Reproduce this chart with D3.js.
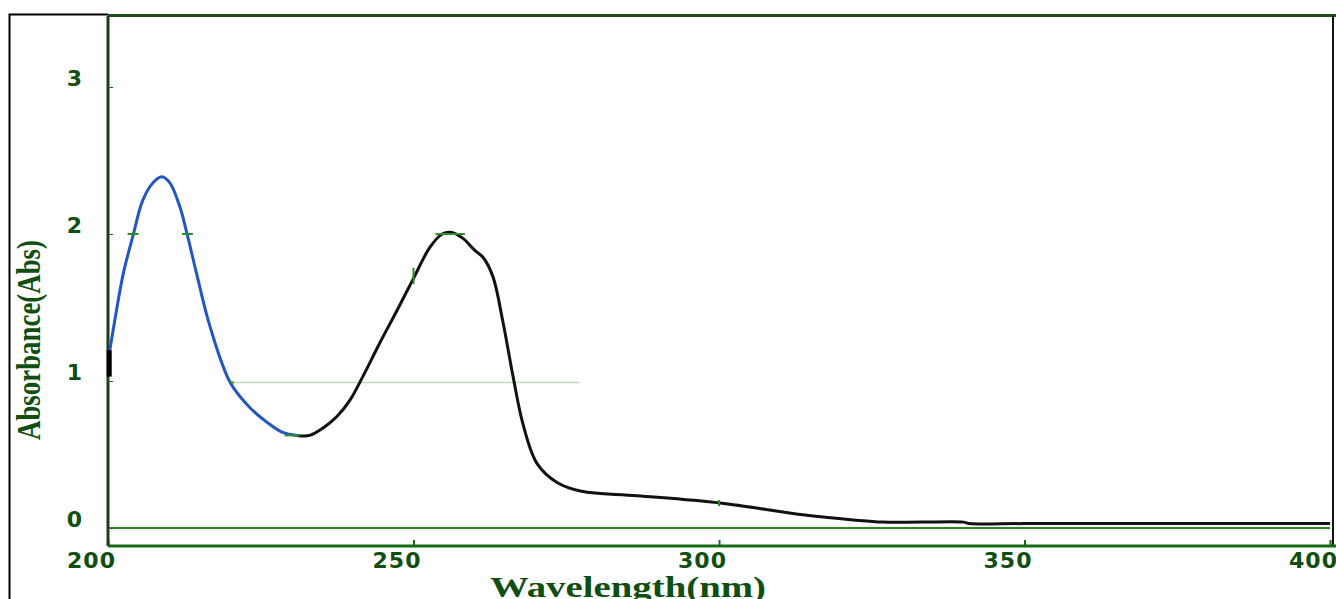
<!DOCTYPE html>
<html>
<head>
<meta charset="utf-8">
<script src="https://cdn.jsdelivr.net/npm/d3@7"></script>
<style>
  html, body { margin: 0; padding: 0; background: #fff; }
  svg { display: block; }
</style>
</head>
<body>
<div id="chart"></div>
<script>
// spectrum: [wavelength nm, absorbance]
var blueScan = [
  [200.3, 1.21], [201.1, 1.41], [202.5, 1.73], [204.1, 1.99], [205.7, 2.23],
  [207.4, 2.35], [208.8, 2.39], [210.1, 2.35], [211.8, 2.18], [213.0, 1.99],
  [214.5, 1.73], [216.7, 1.37], [220.0, 0.99], [223.2, 0.82], [226.0, 0.72],
  [228.6, 0.65], [230.9, 0.63]
];
var blackScan = [
  [230.9, 0.63], [233.0, 0.63], [235.2, 0.68], [237.5, 0.76], [239.6, 0.87],
  [241.7, 1.03], [244.5, 1.26], [247.3, 1.48], [249.9, 1.69], [252.7, 1.91],
  [254.7, 2.00], [256.3, 2.01], [258.1, 1.97], [260.0, 1.89], [261.4, 1.84],
  [263.0, 1.71], [264.6, 1.41], [266.3, 1.03], [267.9, 0.71], [270.2, 0.44],
  [273.5, 0.31], [277.5, 0.25], [286.6, 0.22], [300.2, 0.17], [313.7, 0.09],
  [322.0, 0.055], [326.8, 0.04], [333.0, 0.04], [340.0, 0.04], [341.0, 0.03],
  [350.0, 0.03], [370.0, 0.03], [390.0, 0.03], [400.0, 0.03]
];
var startStub = [[200.2, 1.03], [200.2, 1.21]];
var halfLine = [[220.0, 0.99], [277.2, 0.99]];
var hDashes = [[203.2, 205.0, 2.0], [212.1, 213.9, 2.0], [253.6, 258.4, 2.0], [228.9, 231.5, 0.63], [219.8, 220.6, 0.99]];
var vDashes = [[250.0, 1.66, 1.77], [300.0, 0.15, 0.19]];
var xTicks = [200, 250, 300, 350, 400];
var yTicks = [0, 1, 2, 3];

var W = 1336, H = 599;
var plotLeft = 108, plotRight = 1332, plotTop = 16, plotBottom = 546;
var green = "#176b17", labelGreen = "#0f4f0f";

var x = d3.scaleLinear().domain([200, 400]).range([plotLeft, 1330]);
var y = d3.scaleLinear().domain([0, 3]).range([528, 87]);

var svg = d3.select("#chart").append("svg").attr("width", W).attr("height", H);

// outer frame
svg.append("path").attr("d", "M9.5," + H + "V14.5H" + plotLeft)
  .attr("fill", "none").attr("stroke", "#000").attr("stroke-width", 2);

// plot frame
svg.append("line").attr("x1", plotLeft).attr("x2", W).attr("y1", plotTop - 0.5).attr("y2", plotTop - 0.5)
  .attr("stroke", "#1e4d1e").attr("stroke-width", 3);
svg.append("line").attr("x1", plotRight + 1).attr("x2", plotRight + 1).attr("y1", plotTop).attr("y2", plotBottom)
  .attr("stroke", "#111").attr("stroke-width", 2);

// zero baseline
svg.append("line").attr("x1", plotLeft).attr("x2", x(400)).attr("y1", y(0)).attr("y2", y(0))
  .attr("stroke", "#2a8a2a").attr("stroke-width", 2);

// x axis
var xAxis = svg.append("g").attr("transform", "translate(0," + plotBottom + ")")
  .call(d3.axisBottom(x).tickValues(xTicks).tickSize(-6).tickFormat(d3.format("d")));
xAxis.select(".domain").attr("d", "M" + plotLeft + ",0H" + W).attr("stroke", green).attr("stroke-width", 3);
xAxis.selectAll(".tick line").attr("stroke", green).attr("stroke-width", 2);
xAxis.selectAll(".tick text")
  .attr("dx", -17).attr("y", 6).attr("dy", "0.71em").attr("letter-spacing", "1px")
  .attr("fill", labelGreen).attr("font-family", "DejaVu Sans").attr("font-weight", "bold").attr("font-size", "22px");

// y axis
var yAxis = svg.append("g").attr("transform", "translate(" + plotLeft + ",0)")
  .call(d3.axisLeft(y).tickValues(yTicks).tickSize(-5).tickFormat(d3.format("d")));
yAxis.select(".domain").attr("d", "M0," + plotTop + "V" + plotBottom).attr("stroke", "#1b3d1b").attr("stroke-width", 3);
yAxis.selectAll(".tick line").attr("stroke", green).attr("stroke-width", 1);
yAxis.selectAll(".tick text")
  .attr("x", -26).attr("dy", "-0.05em")
  .attr("fill", labelGreen).attr("font-family", "DejaVu Sans").attr("font-weight", "bold").attr("font-size", "22px");

// half-height guide and markers
var line = d3.line().x(function (d) { return x(d[0]); }).y(function (d) { return y(d[1]); });
svg.append("path").datum(halfLine).attr("d", line)
  .attr("fill", "none").attr("stroke", "#b9dfb9").attr("stroke-width", 1.5);

// spectrum
var smooth = d3.line().curve(d3.curveCatmullRom.alpha(0.5))
  .x(function (d) { return x(d[0]); }).y(function (d) { return y(d[1]); });
svg.append("path").datum(blackScan).attr("d", smooth)
  .attr("fill", "none").attr("stroke", "#111").attr("stroke-width", 3).attr("stroke-linejoin", "round");
svg.append("path").datum(blueScan).attr("d", smooth)
  .attr("fill", "none").attr("stroke", "#2256c4").attr("stroke-width", 3).attr("stroke-linejoin", "round");
svg.append("path").datum(startStub).attr("d", line)
  .attr("fill", "none").attr("stroke", "#000").attr("stroke-width", 5);

svg.selectAll(".hdash").data(hDashes).enter().append("line").attr("class", "hdash")
  .attr("x1", function (d) { return x(d[0]); }).attr("x2", function (d) { return x(d[1]); })
  .attr("y1", function (d) { return y(d[2]); }).attr("y2", function (d) { return y(d[2]); })
  .attr("stroke", "#2e8b2e").attr("stroke-width", 2);
svg.selectAll(".vdash").data(vDashes).enter().append("line").attr("class", "vdash")
  .attr("x1", function (d) { return x(d[0]); }).attr("x2", function (d) { return x(d[0]); })
  .attr("y1", function (d) { return y(d[1]); }).attr("y2", function (d) { return y(d[2]); })
  .attr("stroke", "#2e8b2e").attr("stroke-width", 2);

// axis titles
svg.append("text").attr("x", 628).attr("y", 597)
  .attr("text-anchor", "middle").attr("textLength", 276).attr("lengthAdjust", "spacingAndGlyphs")
  .attr("fill", labelGreen).attr("font-family", "Liberation Serif").attr("font-weight", "bold").attr("font-size", "30px")
  .text("Wavelength(nm)");
svg.append("text").attr("transform", "translate(40,340) rotate(-90)")
  .attr("text-anchor", "middle").attr("textLength", 200).attr("lengthAdjust", "spacingAndGlyphs")
  .attr("fill", labelGreen).attr("font-family", "Liberation Serif").attr("font-weight", "bold").attr("font-size", "33px")
  .text("Absorbance(Abs)");
</script>
</body>
</html>
